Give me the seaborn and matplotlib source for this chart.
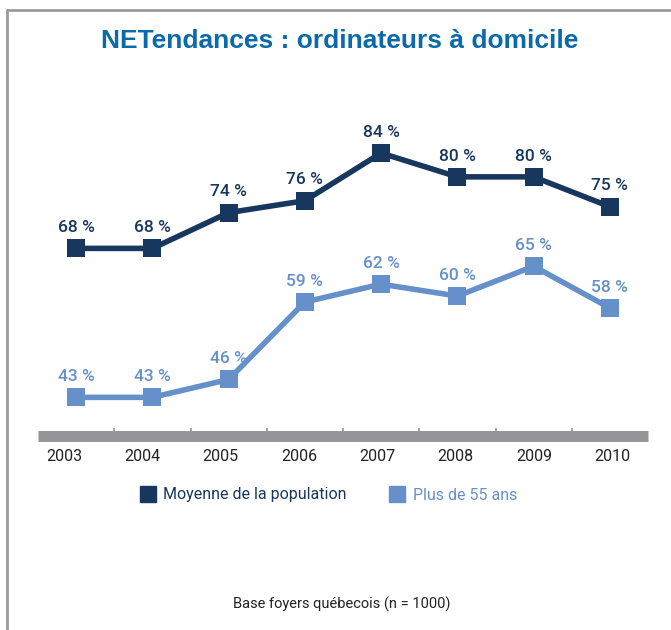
import matplotlib.pyplot as plt
import matplotlib.lines as mlines
import numpy as np
import pandas as pd
import seaborn as sns

# --- data ---
years = ["2003", "2004", "2005", "2006", "2007", "2008", "2009", "2010"]
moyenne = [68, 68, 74, 76, 84, 80, 80, 75]
plus_55 = [43, 43, 46, 59, 62, 60, 65, 58]
series = ["Moyenne de la population", "Plus de 55 ans"]

NAVY = "#17375e"
LIGHT = "#6690c9"
GRAY = "#939598"
TITLE_BLUE = "#0b6aa9"

sns.set_style("white")
plt.rcParams["font.family"] = ["Roboto", "DejaVu Sans"]

df = pd.DataFrame({
    "pos": list(range(len(years))) * 2,
    "valeur": moyenne + plus_55,
    "serie": [series[0]] * len(years) + [series[1]] * len(years),
})

W, H = 671, 630
fig = plt.figure(figsize=(W / 100, H / 100), dpi=100)
ax = fig.add_axes([38 / W, 1 - 435.5 / H, 610 / W, 335.5 / H])

sns.lineplot(data=df, x="pos", y="valeur", hue="serie", palette=[NAVY, LIGHT],
             marker="s", markersize=13, markeredgewidth=0, linewidth=4,
             legend=False, ax=ax)

# value labels above the markers
for vals, col in [(moyenne, NAVY), (plus_55, LIGHT)]:
    for i, v in enumerate(vals):
        ax.annotate(f"{v} %", (i, v), xytext=(0, 15), textcoords="offset points",
                    ha="center", va="center", fontsize=12.5, fontweight="medium",
                    color=col)

ax.set_xlim(-0.5, len(years) - 0.5)
ax.set_ylim(36.6, 92.9)
ax.set_xlabel("")
ax.set_ylabel("")
ax.set_yticks([])

# x axis drawn as a thick gray bar with small ticks between the years
for s in ["left", "right", "top"]:
    ax.spines[s].set_visible(False)
ax.spines["bottom"].set_color(GRAY)
ax.spines["bottom"].set_linewidth(7.9)
ax.spines["bottom"].set_capstyle("butt")

ax.set_xticks(np.linspace(-0.16, 7.03, len(years)))
ax.set_xticklabels(years)
ax.set_xticks(np.arange(0.5, len(years) - 1, 1), minor=True)
ax.tick_params(axis="x", which="both", bottom=True)
ax.tick_params(axis="x", which="major", length=0, pad=10, labelsize=11.5,
               labelcolor="#222222")
ax.tick_params(axis="x", which="minor", direction="in", length=5.8, width=1.2,
               color=GRAY)

# legend
handles = [mlines.Line2D([], [], color=c, marker="s", linestyle="none",
                         markersize=11.5) for c in (NAVY, LIGHT)]
leg = fig.legend(handles, series, loc="center", bbox_to_anchor=(327.5 / W, 1 - 495 / H),
                 ncol=2, frameon=False, fontsize=11.5, handletextpad=0.35,
                 columnspacing=2.6, handlelength=1.2)
for t, c in zip(leg.get_texts(), (NAVY, LIGHT)):
    t.set_color(c)

# title and footnote
fig.text(340 / W, 1 - 41 / H, "NETendances : ordinateurs à domicile",
         ha="center", va="center", fontsize=19, fontweight="bold",
         color=TITLE_BLUE, family=["Liberation Sans", "DejaVu Sans"])
fig.text(342 / W, 1 - 604 / H, "Base foyers québecois (n = 1000)",
         ha="center", va="center", fontsize=10.5, color="#222222")

# frame lines on top and left
fig.add_artist(mlines.Line2D([7 / W, 1], [1 - 10 / H, 1 - 10 / H],
                             color="#9a9a9a", linewidth=2, transform=fig.transFigure))
fig.add_artist(mlines.Line2D([7 / W, 7 / W], [0, 1 - 10 / H],
                             color="#9a9a9a", linewidth=2, transform=fig.transFigure))

fig.savefig("out.png", dpi=100)
